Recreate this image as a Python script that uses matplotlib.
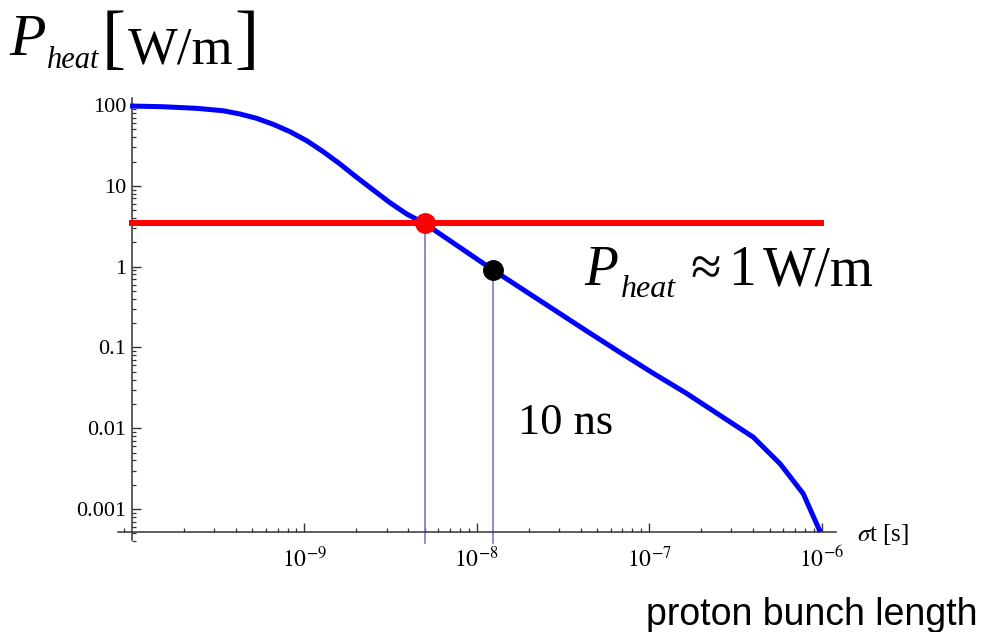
import numpy as np
import matplotlib
matplotlib.use("Agg")
import matplotlib.pyplot as plt
from matplotlib.ticker import FixedLocator, FixedFormatter, LogLocator, NullFormatter

plt.rcParams['font.family'] = ['Liberation Serif', 'DejaVu Serif']
plt.rcParams['mathtext.fontset'] = 'stix'

# ---- data ----
log_sigma_t = [-10.011, -9.818, -9.624, -9.470, -9.373, -9.276, -9.180, -9.083,
               -8.986, -8.890, -8.793, -8.696, -8.600, -8.503, -8.406, -8.302,
               -7.903, -7.36, -7.17, -6.976, -6.782, -6.589, -6.396, -6.24,
               -6.106, -6.008]
log_p_heat = [1.988, 1.979, 1.959, 1.929, 1.889, 1.835, 1.761, 1.670,
              1.558, 1.422, 1.270, 1.105, 0.948, 0.791, 0.651, 0.534,
              -0.045, -0.80, -1.06, -1.32, -1.57, -1.84, -2.11, -2.44,
              -2.81, -3.28]
limit_level = 3.42            # W/m, red horizontal line
limit_x_range = [10**-10.02, 10**-5.985]
red_point = (5.0e-9, 3.42)
black_point = (1.25e-8, 0.90)

y_tick_values = [100, 10, 1, 0.1, 0.01, 0.001]
y_tick_labels = ["100", "10", "1", "0.1", "0.01", "0.001"]
x_tick_values = [1e-9, 1e-8, 1e-7, 1e-6]
x_tick_labels = [r"$10^{-9}$", r"$10^{-8}$", r"$10^{-7}$", r"$10^{-6}$"]

x = 10 ** np.array(log_sigma_t)
y = 10 ** np.array(log_p_heat)

W, H = 984, 632
fig = plt.figure(figsize=(W / 100, H / 100), dpi=100)

# axes box in pixel coordinates
left_px, right_px, top_px, bottom_px = 118, 836, 98, 543
ax = fig.add_axes([left_px / W, 1 - bottom_px / H,
                   (right_px - left_px) / W, (bottom_px - top_px) / H])
ax.set_xscale('log')
ax.set_yscale('log')
ax.set_xlim(10**-10.081, 10**-5.916)
ax.set_ylim(10**-3.42, 10**2.087)
ax.patch.set_alpha(0)

axis_y = 10**-3.281
axis_x = 1e-10

for s in ['top', 'right']:
    ax.spines[s].set_visible(False)
ax.spines['left'].set_position(('data', axis_x))
ax.spines['bottom'].set_position(('data', axis_y))
ax.spines['left'].set_bounds(10**-3.384, 10**2.087)
for s in ['left', 'bottom']:
    ax.spines[s].set_color('#333333')
    ax.spines[s].set_linewidth(1.1)

ax.yaxis.set_major_locator(FixedLocator(y_tick_values))
ax.yaxis.set_major_formatter(FixedFormatter(y_tick_labels))
ax.yaxis.set_minor_locator(LogLocator(base=10, subs=np.arange(2, 10), numticks=20))
ax.yaxis.set_minor_formatter(NullFormatter())
ax.xaxis.set_major_locator(FixedLocator(x_tick_values))
ax.xaxis.set_major_formatter(FixedFormatter(x_tick_labels))
ax.xaxis.set_minor_locator(LogLocator(base=10, subs=np.arange(2, 10), numticks=20))
ax.xaxis.set_minor_formatter(NullFormatter())

ax.tick_params(which='major', direction='in', length=6.5, width=1.0, color='#333333',
               labelsize=16, pad=4)
ax.tick_params(which='minor', direction='in', length=3, width=0.9, color='#333333')
ax.tick_params(axis='x', which='major', pad=11, labelsize=17)

# vertical drop lines
for px, py in (red_point, black_point):
    ax.plot([px, px], [py, 10**-3.42], color='#7878c8', lw=1.2, zorder=2, clip_on=False)

# curve
ax.plot(x, y, color='#0000ff', lw=3.6, zorder=3, solid_capstyle='butt',
        solid_joinstyle='round', clip_on=False)
# limit line
ax.plot(limit_x_range, [limit_level, limit_level], color='#ff0000', lw=4.3, zorder=4,
        solid_capstyle='butt', clip_on=False)
# points
ax.plot(*red_point, 'o', color='#ff0000', ms=14, zorder=5)
ax.plot(*black_point, 'o', color='#000000', ms=14, zorder=5)

# axis label
ax.annotate(r'$\sigma$t [s]', xy=(10**-5.916, axis_y), xycoords='data',
            xytext=(15, -2), textcoords='offset points', ha='left', va='center',
            fontsize=18)

def ftext(xp, yp, s, size, **kw):
    fig.text(xp / W, 1 - yp / H, s, fontsize=size, ha='left', va='baseline', **kw)

# title  P_heat [W/m]
ftext(9, 55, 'P', 43, style='italic')
ftext(47, 68, 'heat', 22, style='italic')
ftext(102, 60, '[', 52)
ftext(128, 63, 'W/m', 38)
ftext(234, 60, ']', 52)

# annotation  P_heat ≈ 1 W/m
ftext(584, 285, 'P', 40, style='italic')
ftext(621, 297, 'heat', 23, style='italic')
ftext(690, 285, '\u2248', 40)
ftext(728, 285, '1', 40)
ftext(763, 285, 'W/m', 40)

ftext(518, 434, '10 ns', 32)
fig.text(977 / W, 1 - 625 / H, 'proton bunch length', fontsize=27,
         family='Liberation Sans', ha='right', va='baseline')

fig.savefig('out.png', dpi=100)
